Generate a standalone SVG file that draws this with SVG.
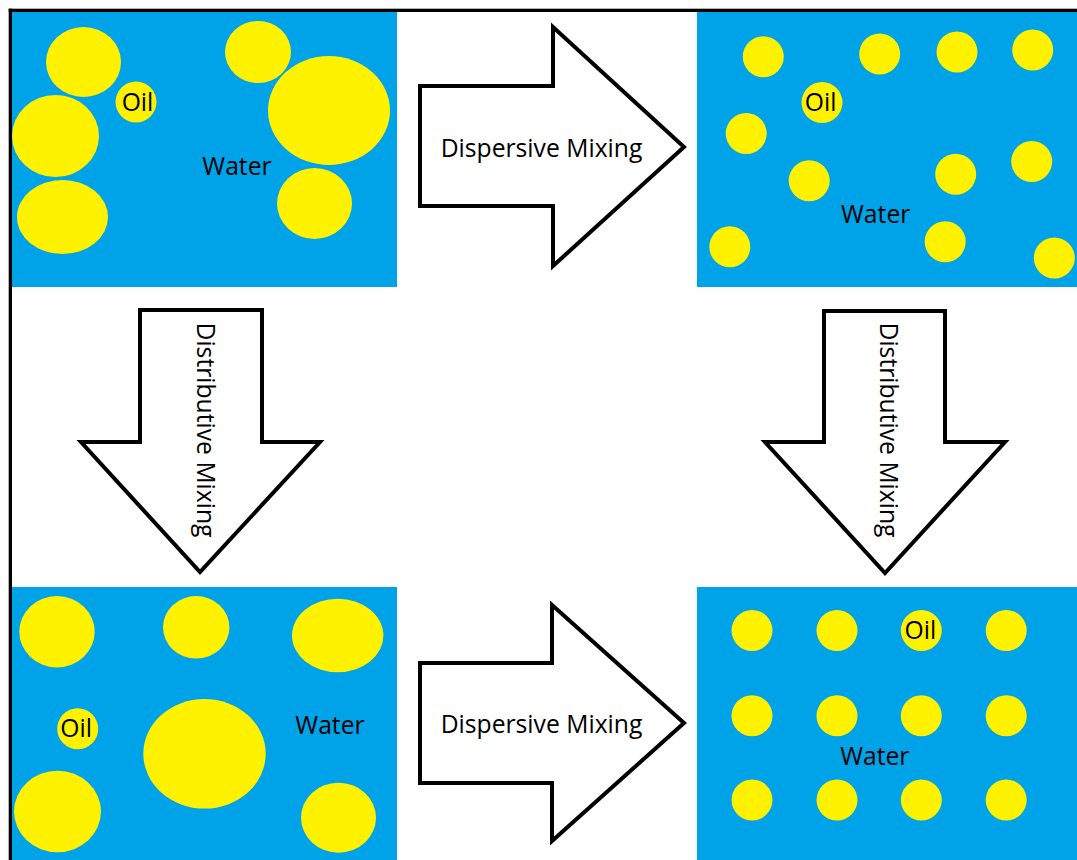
<svg xmlns="http://www.w3.org/2000/svg" width="1077" height="860" viewBox="0 0 1077 860">
<style>
.panel{fill:#00A2E8}
.drop{fill:#FFF200}
.lbl{font-family:"Open Sans","Liberation Sans",sans-serif;font-size:24.7px;fill:#000;text-anchor:middle}
.arrow{fill:#fff;stroke:#000;stroke-width:4;stroke-linejoin:miter}
</style>
<rect x="0" y="0" width="1077" height="860" fill="#fff"/>
<g id="frame">
<rect x="8.7" y="8.7" width="1068.3" height="3.3" fill="#000"/>
<rect x="8.7" y="8.7" width="3.3" height="851.3" fill="#000"/>
</g>
<g id="panel-top-left">
<rect class="panel" x="12" y="12" width="385" height="275"/>
<ellipse class="drop" cx="83.5" cy="62" rx="37.5" ry="35"/>
<ellipse class="drop" cx="55.5" cy="136" rx="43.5" ry="41"/>
<ellipse class="drop" cx="62.5" cy="217" rx="45.5" ry="37"/>
<ellipse class="drop" cx="258" cy="52" rx="33" ry="31"/>
<ellipse class="drop" cx="329" cy="110.5" rx="61" ry="54.5"/>
<ellipse class="drop" cx="314.5" cy="203.5" rx="37.5" ry="35.5"/>
<circle class="drop" cx="136" cy="102" r="20.5"/>
<text class="lbl" x="137.5" y="111">Oil</text>
<text class="lbl" x="237" y="175">Water</text>
</g>
<g id="panel-top-right">
<rect class="panel" x="697" y="12" width="380" height="275"/>
<circle class="drop" cx="763.3" cy="56.7" r="20.5"/>
<circle class="drop" cx="879.7" cy="54" r="20.5"/>
<circle class="drop" cx="957" cy="52" r="20.5"/>
<circle class="drop" cx="1032.7" cy="50" r="20.5"/>
<circle class="drop" cx="822" cy="102.5" r="20.5"/>
<circle class="drop" cx="746.2" cy="133.5" r="20.5"/>
<circle class="drop" cx="809.2" cy="180.7" r="20.5"/>
<circle class="drop" cx="955.7" cy="174.2" r="20.5"/>
<circle class="drop" cx="1031.7" cy="161.5" r="20.5"/>
<circle class="drop" cx="729.8" cy="246.8" r="20.5"/>
<circle class="drop" cx="945.2" cy="241.7" r="20.5"/>
<circle class="drop" cx="1054.3" cy="258" r="20.5"/>
<text class="lbl" x="820.7" y="111">Oil</text>
<text class="lbl" x="875.7" y="222.7">Water</text>
</g>
<g id="panel-bottom-left">
<rect class="panel" x="12" y="587" width="385" height="273"/>
<ellipse class="drop" cx="57" cy="631.7" rx="37.7" ry="35.7"/>
<ellipse class="drop" cx="196.2" cy="627.3" rx="33.2" ry="31.3"/>
<ellipse class="drop" cx="337.7" cy="635.5" rx="45.7" ry="36.8"/>
<ellipse class="drop" cx="204.5" cy="753.8" rx="61.2" ry="54.8"/>
<ellipse class="drop" cx="57.5" cy="811.5" rx="43.5" ry="40.8"/>
<ellipse class="drop" cx="338.5" cy="817.7" rx="37.5" ry="35"/>
<circle class="drop" cx="77.7" cy="728.8" r="20.5"/>
<text class="lbl" x="76.2" y="736.7">Oil</text>
<text class="lbl" x="330" y="734">Water</text>
</g>
<g id="panel-bottom-right">
<rect class="panel" x="697" y="587" width="380" height="273"/>
<circle class="drop" cx="752" cy="630.5" r="20.5"/>
<circle class="drop" cx="837" cy="630.5" r="20.5"/>
<circle class="drop" cx="921.3" cy="630.5" r="20.5"/>
<circle class="drop" cx="1006.2" cy="630.5" r="20.5"/>
<circle class="drop" cx="752" cy="715.8" r="20.5"/>
<circle class="drop" cx="837" cy="715.8" r="20.5"/>
<circle class="drop" cx="921.3" cy="715.8" r="20.5"/>
<circle class="drop" cx="1006.2" cy="715.8" r="20.5"/>
<circle class="drop" cx="752" cy="800" r="20.5"/>
<circle class="drop" cx="837" cy="800" r="20.5"/>
<circle class="drop" cx="921.3" cy="800" r="20.5"/>
<circle class="drop" cx="1006.2" cy="800" r="20.5"/>
<text class="lbl" x="920.3" y="639.3">Oil</text>
<text class="lbl" x="874.8" y="765.3">Water</text>
</g>
<g id="connectors">
<g id="arrow-top">
<polygon class="arrow" points="420,86 553,86 553,27 684,147 553,266 553,206 420,206"/>
<text class="lbl" x="541.5" y="156.7">Dispersive Mixing</text>
</g>
<g id="arrow-bottom">
<polygon class="arrow" points="420,663 552,663 552,605 684,723 552,841 552,783 420,783"/>
<text class="lbl" x="541.5" y="733.3">Dispersive Mixing</text>
</g>
<g id="arrow-left">
<polygon class="arrow" points="140,310 262,310 262,442 320,442 200,572 81,442 140,442"/>
<text class="lbl" transform="translate(196.5,430) rotate(90)">Distributive Mixing</text>
</g>
<g id="arrow-right">
<polygon class="arrow" points="824,311 945,311 945,442 1005,442 885,573 765,442 824,442"/>
<text class="lbl" transform="translate(879.5,430) rotate(90)">Distributive Mixing</text>
</g>
</g>
</svg>
